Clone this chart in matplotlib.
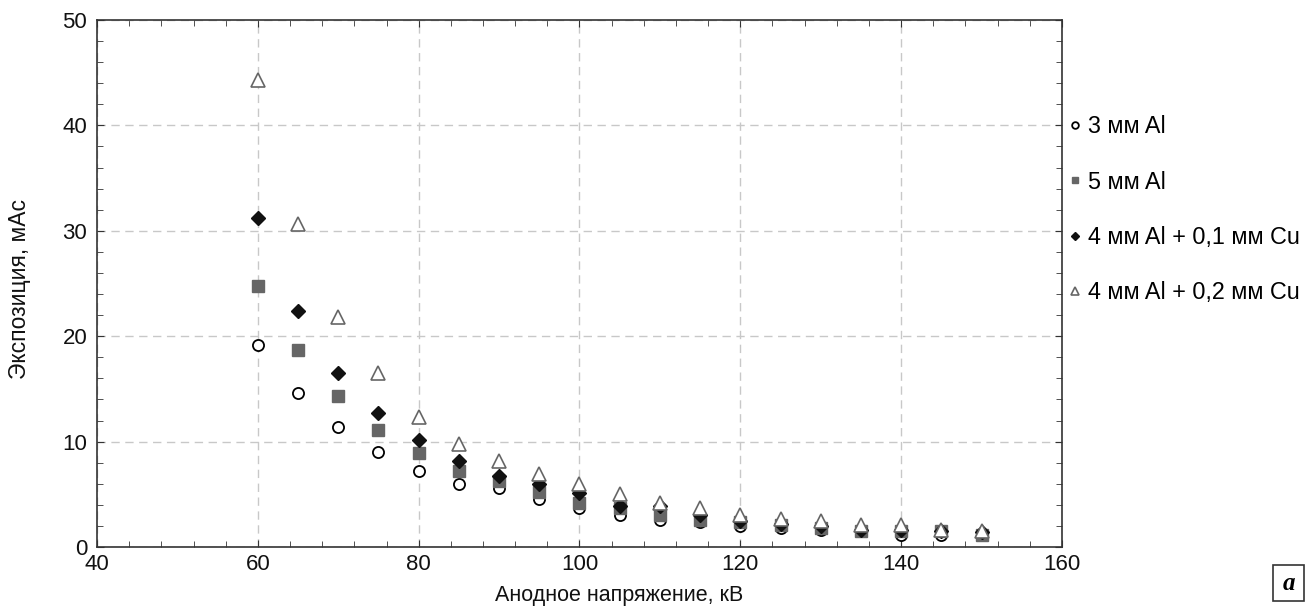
import matplotlib
matplotlib.use("Agg")
import matplotlib.pyplot as plt
from matplotlib.patches import Rectangle
from matplotlib.ticker import MultipleLocator

plt.rcParams["font.family"] = ["Liberation Sans", "DejaVu Sans"]

# анодное напряжение, кВ
kv = [60, 65, 70, 75, 80, 85, 90, 95, 100, 105, 110, 115, 120, 125, 130,
      135, 140, 145, 150]

# экспозиция, мАс, для разных фильтров
al3 = [19.2, 14.6, 11.4, 9.0, 7.2, 6.0, 5.6, 4.6, 3.7, 3.0, 2.6, 2.4, 2.0,
       1.8, 1.6, 1.5, 1.1, 1.1, 1.1]
al5 = [24.8, 18.7, 14.3, 11.1, 8.9, 7.2, 6.3, 5.2, 4.2, 3.7, 3.0, 2.6, 2.4,
       2.1, 1.8, 1.5, 1.5, 1.5, 1.1]
al4_cu01 = [31.2, 22.4, 16.5, 12.7, 10.2, 8.2, 6.7, 6.0, 5.1, 3.9, 3.9, 3.0,
            2.5, 2.2, 2.0, 1.6, 1.6, 1.5, 1.4]
al4_cu02 = [44.3, 30.6, 21.8, 16.5, 12.3, 9.8, 8.2, 6.9, 6.0, 5.0, 4.2, 3.7,
            3.0, 2.7, 2.5, 2.1, 2.1, 1.6, 1.5]

labels = ["3 мм Al", "5 мм Al", "4 мм Al + 0,1 мм Cu", "4 мм Al + 0,2 мм Cu"]

fig = plt.figure(figsize=(13.13, 6.08), dpi=100)
ax = fig.add_axes([0.0739, 0.1003, 0.7349, 0.8668])

ax.plot(kv, al3, "o", ls="none", ms=8, mfc="white", mec="black", mew=1.3,
        label=labels[0])
ax.plot(kv, al5, "s", ls="none", ms=8, mfc="#666666", mec="#666666",
        label=labels[1])
ax.plot(kv, al4_cu01, "D", ls="none", ms=7.5, mfc="#111111", mec="#111111",
        label=labels[2])
ax.plot(kv, al4_cu02, "^", ls="none", ms=9.5, mfc="white", mec="#666666",
        mew=1.2, label=labels[3])

ax.set_xlim(40, 160)
ax.set_ylim(0, 50)
ax.xaxis.set_major_locator(MultipleLocator(20))
ax.xaxis.set_minor_locator(MultipleLocator(4))
ax.yaxis.set_major_locator(MultipleLocator(10))
ax.yaxis.set_minor_locator(MultipleLocator(2))
ax.tick_params(which="both", direction="in", top=True, right=True,
               color="#333333", labelsize=16, labelcolor="#111111")
ax.tick_params(which="major", length=5)
ax.tick_params(which="minor", length=4)
ax.tick_params(axis="x", pad=5)
ax.tick_params(axis="y", pad=7)
for s in ax.spines.values():
    s.set_color("#333333")
    s.set_linewidth(1.2)

ax.grid(True, which="major", ls=(0, (6, 4)), color="#c8c8c8", lw=1)
ax.set_axisbelow(True)

ax.set_xlabel("Анодное напряжение, кВ", fontsize=15.5, color="#111111")
ax.set_ylabel("Экспозиция, мАс", fontsize=16.5, color="#111111")
ax.xaxis.set_label_coords(0.541, -0.072)
ax.yaxis.set_label_coords(-0.068, 0.49)

ax.legend(loc="upper left", bbox_to_anchor=(0.985, 0.85), frameon=False,
          fontsize=16.8, markerscale=0.6, handletextpad=0.05,
          labelspacing=1.38, handlelength=1.0, borderaxespad=0.3)

# буква панели в рамке
fig.add_artist(Rectangle((1273 / 1313, 1 - 601 / 608), 31 / 1313, 36 / 608,
                         transform=fig.transFigure, fc="white",
                         ec="#333333", lw=1.2))
fig.text(1288.5 / 1313, 1 - 583 / 608, "a", fontsize=18, fontweight="bold",
         fontstyle="italic", family="Liberation Serif", ha="center",
         va="center")

fig.savefig("out.png", dpi=100)
